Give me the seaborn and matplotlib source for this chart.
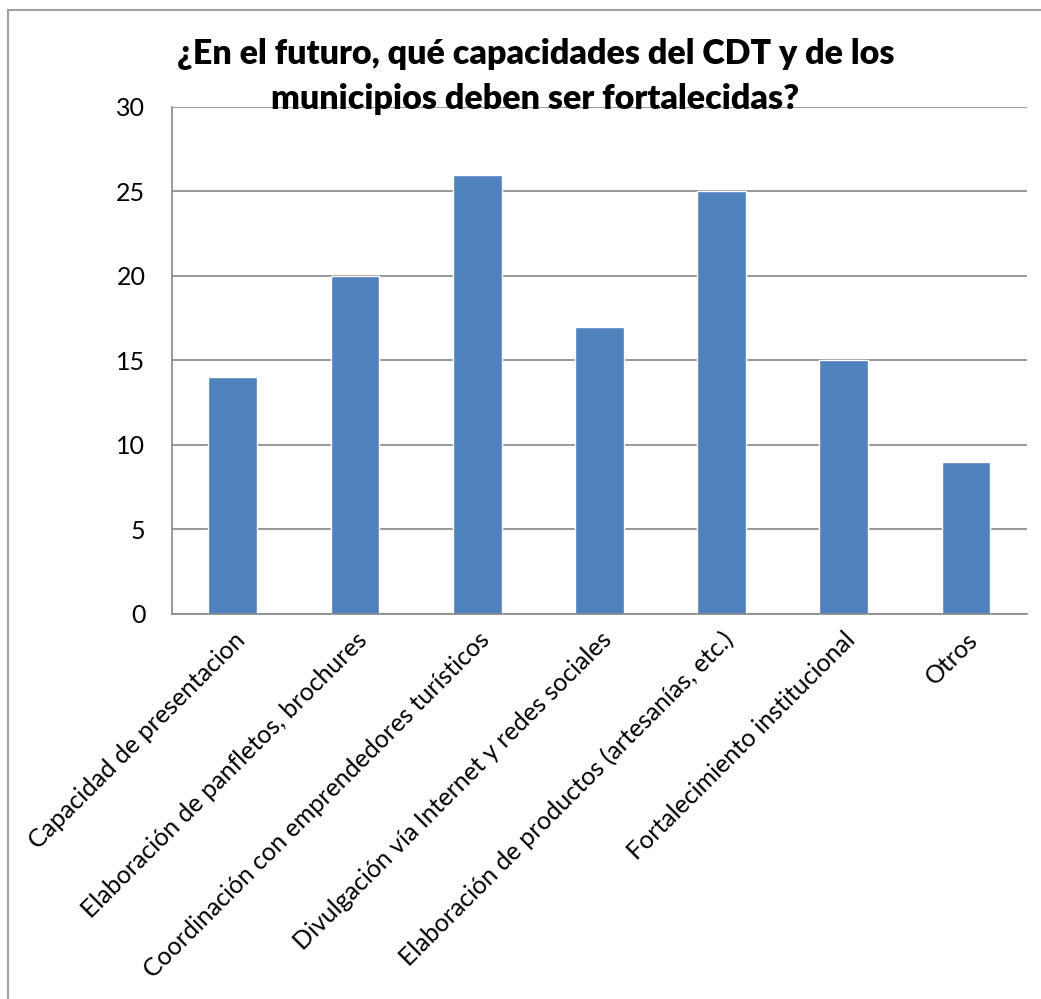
import pandas as pd
import matplotlib
matplotlib.use("Agg")
import matplotlib.pyplot as plt
import seaborn as sns
from matplotlib.patches import Rectangle

# data
categorias = [
    "Capacidad de presentacion",
    "Elaboración de panfletos, brochures",
    "Coordinación con emprendedores turísticos",
    "Divulgación vía Internet y redes sociales",
    "Elaboración de productos (artesanías, etc.)",
    "Fortalecimiento institucional",
    "Otros",
]
valores = [14, 20, 26, 17, 25, 15, 9]
y_ticks = [0, 5, 10, 15, 20, 25, 30]

titulo = ["¿En el futuro, qué capacidades del CDT y de los",
          "municipios deben ser fortalecidas?"]

df = pd.DataFrame({"categoria": categorias, "valor": valores})

sns.set_style("white")
plt.rcParams["font.family"] = ["Lato", "DejaVu Sans"]
plt.rcParams["text.color"] = "black"
plt.rcParams["xtick.labelcolor"] = "black"
plt.rcParams["ytick.labelcolor"] = "black"

gris = "#868686"

fig = plt.figure(figsize=(10.41, 9.99), dpi=100)
ax = fig.add_axes([0.165, 0.3854, 0.8216, 0.5075])

sns.barplot(data=df, x="categoria", y="valor", color="#4F81BD",
            saturation=1, width=0.4, ax=ax)

ax.set_xlim(-0.5, len(categorias) - 0.5)
ax.set_ylim(0, 30)
ax.set_yticks(y_ticks)
ax.yaxis.grid(True, color=gris, linewidth=1.2)
ax.set_axisbelow(True)
ax.set_xlabel("")
ax.set_ylabel("")

for side in ["top", "right"]:
    ax.spines[side].set_visible(False)
for side in ["left", "bottom"]:
    ax.spines[side].set_color(gris)
    ax.spines[side].set_linewidth(1.2)

# Excel-like ticks between categories
ax.set_xticks([i - 0.5 for i in range(len(categorias) + 1)], minor=True)
ax.tick_params(axis="x", which="minor", length=6, width=1.2, color=gris, direction="out")
ax.tick_params(axis="x", which="major", length=0, pad=10, labelsize=18)
ax.tick_params(axis="y", length=7, width=1.2, color=gris, direction="out", pad=12, labelsize=18)
ax.set_xticklabels(categorias, rotation=45, ha="right", rotation_mode="anchor")

fig.text(0.515, 0.936, titulo[0], ha="center", va="baseline", fontsize=24.5,
         fontweight="heavy", color="black")
fig.text(0.514, 0.891, titulo[1], ha="center", va="baseline", fontsize=24.5,
         fontweight="heavy", color="black")

# outer chart border (only top/left visible in the crop)
fig.patches.append(Rectangle((8 / 1041, -0.1), 1.2, 0.1 + 1 - 10 / 999,
                             transform=fig.transFigure, fill=False,
                             edgecolor="#A0A0A0", linewidth=1.5))

fig.savefig("out.png", dpi=100)
